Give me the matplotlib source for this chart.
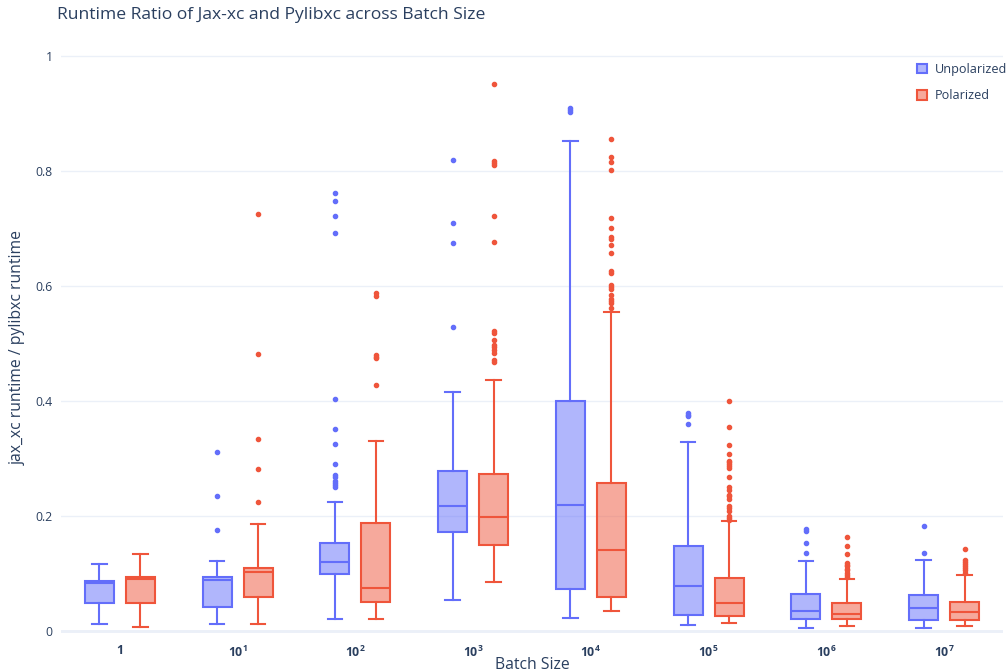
import matplotlib.pyplot as plt
from matplotlib.patches import Patch

plt.rcParams['font.family'] = ['Open Sans', 'DejaVu Sans']
plt.rcParams['mathtext.fontset'] = 'custom'
plt.rcParams['mathtext.rm'] = 'Open Sans'
plt.rcParams['mathtext.bf'] = 'Open Sans:bold'

textColor = '#2a3f5f'
gridColor = '#EBF0F8'
blue = '#636EFA'
red = '#EF553B'

batchLabels = ['1', r'$\mathbf{10^{1}}$', r'$\mathbf{10^{2}}$', r'$\mathbf{10^{3}}$',
               r'$\mathbf{10^{4}}$', r'$\mathbf{10^{5}}$', r'$\mathbf{10^{6}}$', r'$\mathbf{10^{7}}$']

# Unpolarized box statistics
unpolLow = [0.012, 0.012, 0.020, 0.054, 0.023, 0.010, 0.005, 0.005]
unpolQ1 = [0.048, 0.041, 0.099, 0.172, 0.072, 0.027, 0.021, 0.019]
unpolMed = [0.083, 0.088, 0.120, 0.217, 0.219, 0.078, 0.035, 0.039]
unpolQ3 = [0.087, 0.093, 0.152, 0.278, 0.399, 0.148, 0.064, 0.063]
unpolHigh = [0.116, 0.122, 0.224, 0.416, 0.852, 0.328, 0.122, 0.124]
unpolOut = [
    [],
    [0.175, 0.234, 0.311],
    [0.250, 0.253, 0.257, 0.261, 0.267, 0.271, 0.290, 0.325, 0.351, 0.404,
     0.692, 0.722, 0.747, 0.762],
    [0.528, 0.675, 0.710, 0.819],
    [0.902, 0.906, 0.910],
    [0.360, 0.373, 0.376, 0.379],
    [0.135, 0.152, 0.173, 0.177],
    [0.136, 0.183],
]

# Polarized box statistics
polLow = [0.007, 0.012, 0.020, 0.085, 0.034, 0.013, 0.009, 0.009]
polQ1 = [0.048, 0.059, 0.050, 0.150, 0.059, 0.025, 0.020, 0.018]
polMed = [0.090, 0.102, 0.075, 0.198, 0.140, 0.048, 0.029, 0.033]
polQ3 = [0.094, 0.110, 0.187, 0.273, 0.257, 0.092, 0.048, 0.051]
polHigh = [0.133, 0.186, 0.331, 0.437, 0.555, 0.191, 0.090, 0.097]
polOut = [
    [],
    [0.224, 0.281, 0.333, 0.482, 0.725],
    [0.427, 0.474, 0.477, 0.480, 0.583, 0.587],
    [0.467, 0.471, 0.484, 0.489, 0.493, 0.497, 0.506, 0.519, 0.522,
     0.677, 0.722, 0.810, 0.814, 0.818, 0.952],
    [0.561, 0.570, 0.574, 0.578, 0.584, 0.594, 0.598, 0.601, 0.622, 0.626,
     0.658, 0.671, 0.682, 0.685, 0.701, 0.718, 0.801, 0.815, 0.825, 0.856],
    [0.193, 0.197, 0.200, 0.209, 0.213, 0.218, 0.230, 0.234, 0.237, 0.245,
     0.250, 0.268, 0.283, 0.287, 0.290, 0.293, 0.296, 0.307, 0.323, 0.354, 0.400],
    [0.093, 0.097, 0.101, 0.105, 0.108, 0.112, 0.115, 0.118, 0.133, 0.148, 0.164],
    [0.101, 0.105, 0.109, 0.113, 0.117, 0.120, 0.124, 0.143],
]


def makeStats(low, q1, med, q3, high, out):
    return [dict(whislo=low[i], q1=q1[i], med=med[i], q3=q3[i], whishi=high[i], fliers=out[i])
            for i in range(len(low))]


def drawBoxes(ax, stats, offset, color):
    pos = [i + offset for i in range(len(stats))]
    ax.bxp(stats, positions=pos, widths=0.246, capwidths=0.123, patch_artist=True,
           showfliers=True, manage_ticks=False,
           boxprops=dict(facecolor=color + '80', edgecolor=color, linewidth=1.5),
           medianprops=dict(color=color, linewidth=1.5),
           whiskerprops=dict(color=color, linewidth=1.5),
           capprops=dict(color=color, linewidth=1.5),
           flierprops=dict(marker='o', markersize=3, markerfacecolor=color,
                           markeredgecolor=color, linestyle='none'))


fig = plt.figure(figsize=(10.08, 6.72), dpi=100)
ax = fig.add_axes([61 / 1008, 1 - 636 / 672, 942 / 1008, 588 / 672])

drawBoxes(ax, makeStats(unpolLow, unpolQ1, unpolMed, unpolQ3, unpolHigh, unpolOut), -0.174, blue)
drawBoxes(ax, makeStats(polLow, polQ1, polMed, polQ3, polHigh, polOut), 0.174, red)

ax.set_xlim(-0.5, 7.5)
ax.set_ylim(-0.009, 1.014)
ax.set_xticks(range(len(batchLabels)))
ax.set_xticklabels(batchLabels, fontsize=8.8, color=textColor, fontweight='bold')
ax.set_yticks([0, 0.2, 0.4, 0.6, 0.8, 1])
ax.set_yticklabels(['0', '0.2', '0.4', '0.6', '0.8', '1'], fontsize=8.8, color=textColor)
ax.tick_params(length=0, pad=6)
ax.tick_params(axis='x', pad=6)
for s in ax.spines.values():
    s.set_visible(False)
ax.set_axisbelow(True)
ax.yaxis.grid(True, color=gridColor, linewidth=1)
ax.axhline(0, color=gridColor, linewidth=2, zorder=0)

ax.set_xlabel('Batch Size', fontsize=11.3, color=textColor, va='center')
ax.xaxis.set_label_coords(0.5, (636 - 665) / 588)
ax.set_ylabel('jax_xc runtime / pylibxc runtime', fontsize=11.3, color=textColor, va='center')
ax.yaxis.set_label_coords((17.5 - 61) / 942, 0.49)

fig.text(57 / 1008, 1 - 15 / 672, 'Runtime Ratio of Jax-xc and Pylibxc across Batch Size',
         fontsize=12.6, color=textColor, va='center', ha='left')

handles = [Patch(facecolor=blue + '80', edgecolor=blue, linewidth=1.5, label='Unpolarized'),
           Patch(facecolor=red + '80', edgecolor=red, linewidth=1.5, label='Polarized')]
leg = fig.legend(handles=handles, loc='upper left', bbox_to_anchor=(912 / 1008, 1 - 58 / 672),
                 frameon=False, fontsize=9.1, handlelength=0.8, handleheight=0.8,
                 handletextpad=0.6, labelspacing=1.05, borderaxespad=0)
for t in leg.get_texts():
    t.set_color(textColor)

fig.savefig('out.png', dpi=100)
